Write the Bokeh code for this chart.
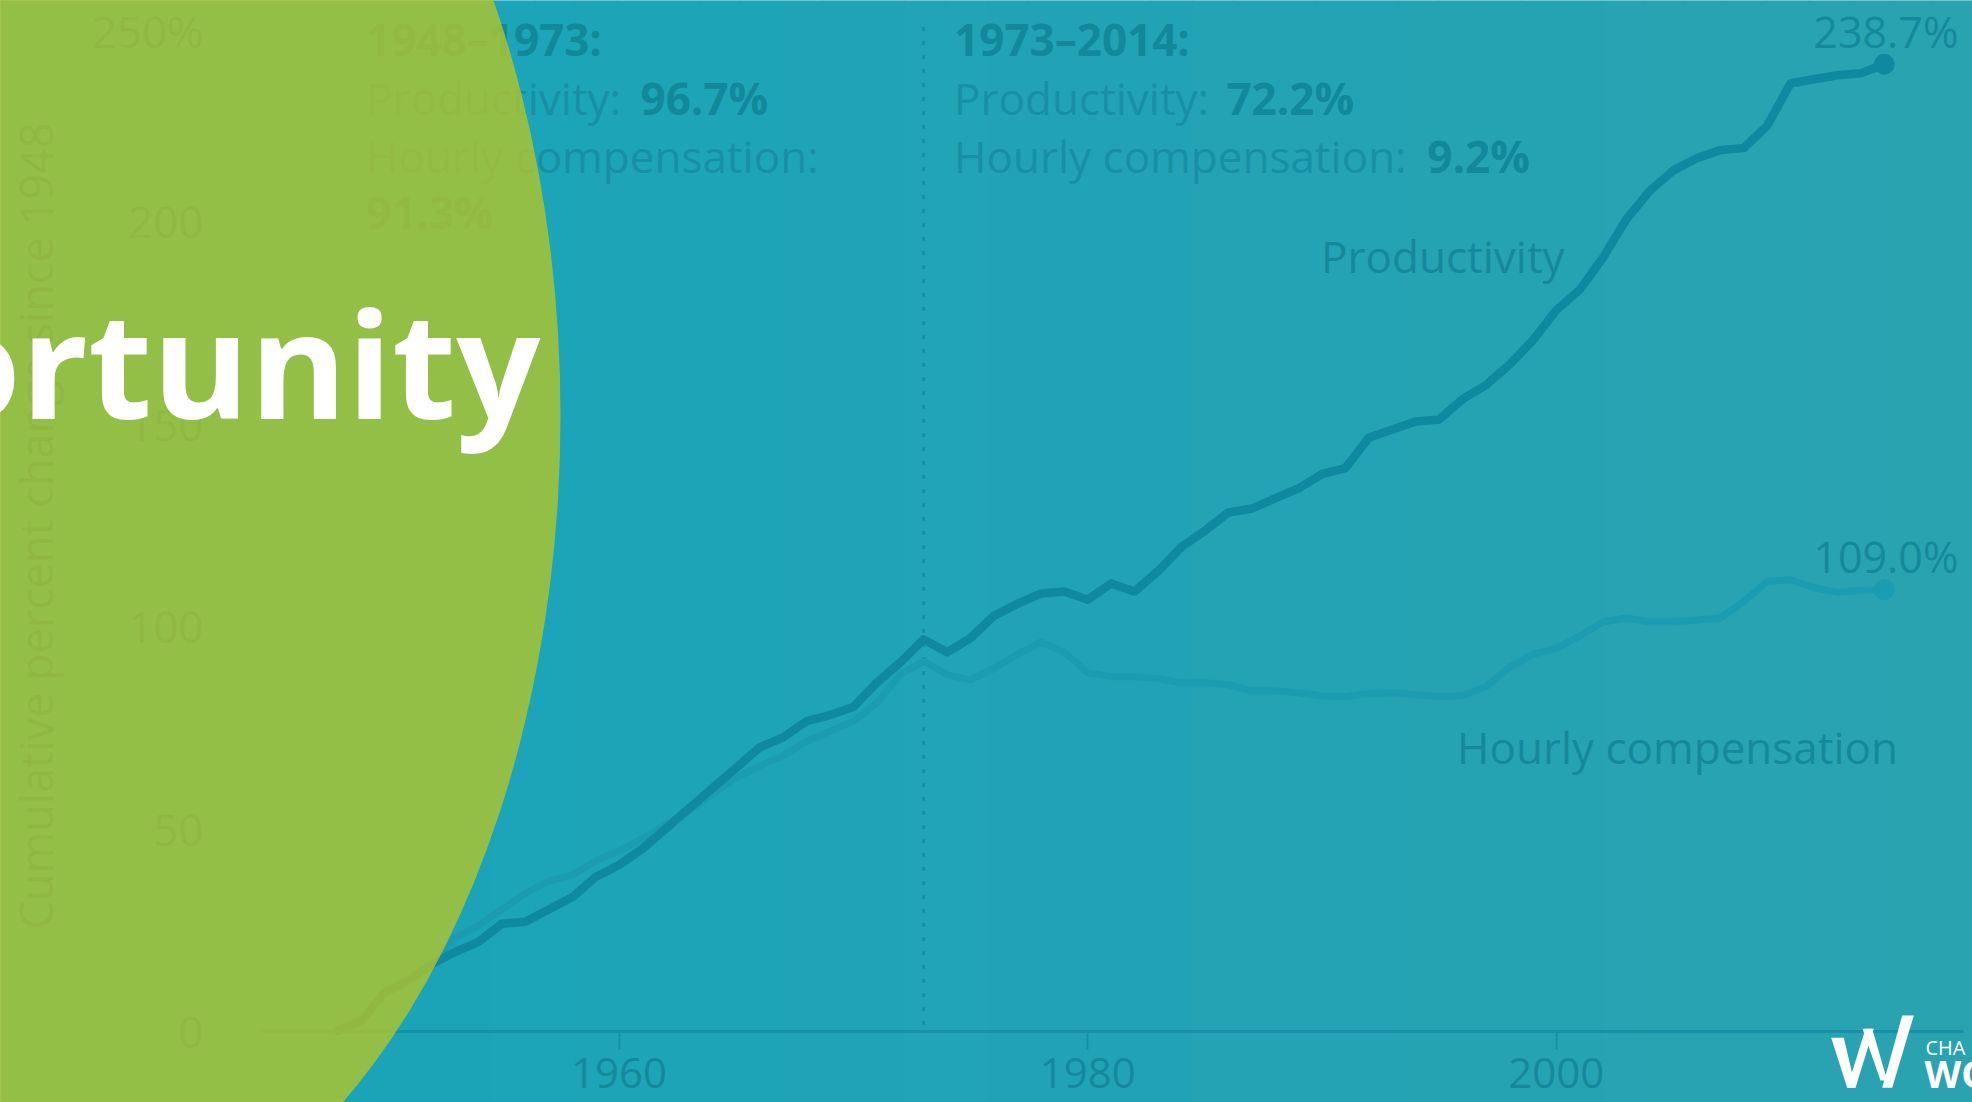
from bokeh.plotting import figure
from bokeh.models import Range1d, FixedTicker, LinearAxis
from bokeh.core.properties import value
from bokeh.embed import file_html
from bokeh.resources import INLINE

# ---------------- data ----------------
years = list(range(1948, 2015))
productivity = [0.0, 2.5, 9.5, 12.5, 16.5, 19.5, 22.0, 26.5, 27.0, 30.0,
                33.0, 38.0, 41.0, 45.0, 50.0, 55.0, 60.0, 65.0, 70.0, 72.5,
                76.5, 78.0, 80.0, 86.0, 91.0, 96.7, 93.5, 97.0, 102.5, 105.5,
                108.0, 108.5, 106.5, 110.5, 108.5, 113.5, 119.5, 123.5, 128.0, 129.0,
                131.5, 134.0, 137.5, 139.0, 146.5, 148.5, 150.5, 151.0, 156.0, 159.5,
                164.5, 170.5, 178.0, 183.0, 191.0, 200.5, 207.5, 212.5, 215.5, 217.5,
                218.0, 223.5, 234.0, 235.0, 236.0, 236.5, 238.7]
compensation = [0.0, 4.0, 9.0, 12.0, 17.0, 23.0, 26.0, 30.0, 34.0, 37.0,
                38.5, 42.0, 44.5, 47.5, 51.0, 54.5, 58.5, 62.5, 65.5, 68.0,
                71.5, 74.0, 76.5, 81.0, 88.0, 91.3, 88.0, 86.7, 89.5, 93.0,
                96.0, 93.5, 88.5, 87.5, 87.5, 87.0, 86.0, 86.0, 85.5, 84.0,
                84.0, 83.5, 82.7, 82.6, 83.3, 83.5, 83.0, 82.6, 82.8, 85.0,
                89.8, 93.0, 94.5, 97.5, 101.0, 102.0, 101.0, 101.0, 101.5, 102.0,
                106.0, 111.0, 111.4, 109.5, 108.3, 108.8, 109.0]
x_ticks = [1960, 1980, 2000]
y_ticks = [0, 50, 100, 150, 200, 250]
y_tick_overrides = {250: "250%"}
y_title = "Cumulative percent change since 1948"
split_year = 1973
series_names = ["Productivity", "Hourly compensation"]
period1 = ["1948\u20131973:", "Productivity: ", "96.7%", "Hourly compensation:", "91.3%"]
period2 = ["1973\u20132014:", "Productivity: ", "72.2%", "Hourly compensation: ", "9.2%"]
headline = "Opportunity"
logo_words = ["CHA", "WO"]

# ---------------- layout / style ----------------
W, H = 1972, 1102
X_1948 = 337.4        # canvas px of 1948
PX_YEAR = 23.43
Y_ZERO = 1030.5       # canvas px of 0 %
PX_PCT = 4.05

x_start = 1948 - X_1948 / PX_YEAR
x_end = x_start + W / PX_YEAR
y_end = Y_ZERO / PX_PCT
y_start = y_end - H / PX_PCT

FONT = "Open Sans"
TXT = "#15899B"
TXT_LIGHT = "#1790A4"
BOLD = "#12889B"
PROD_C = "#0E89A0"
COMP_C = "#1B9CB1"
AXIS_C = "#1890A5"
UNDER_GREEN = "#007FA6"
GREEN = "#B3C529"
BASELINE_FIX = 0.375   # svg baseline correction (fraction of font size)

p = figure(width=W, height=H, x_range=Range1d(x_start, x_end),
           y_range=Range1d(y_start, y_end), output_backend="svg",
           toolbar_location=None, min_border=0, x_axis_type=None, y_axis_type=None)
p.extra_x_ranges = {"px": Range1d(0, W)}
p.extra_y_ranges = {"px": Range1d(0, H)}
p.background_fill_color = "#20A4B6"
p.border_fill_color = "#20A4B6"
p.outline_line_color = None

# background gradient (left -> right)
N = 48
c0 = (23, 164, 186)
c1 = (42, 163, 177)
lefts, rights, cols = [], [], []
for i in range(N):
    t = i / (N - 1)
    lefts.append(W * i / N)
    rights.append(W * (i + 1) / N + 1)
    cols.append("#%02x%02x%02x" % tuple(int(round(a + (b - a) * t)) for a, b in zip(c0, c1)))
p.quad(left=lefts, right=rights, bottom=[0] * N, top=[H] * N, fill_color=cols,
       line_color=None, x_range_name="px", y_range_name="px", level="image")


def add_text(x, y, txt, size, color, bold=False, align="left", level="glyph"):
    yy = y - BASELINE_FIX * size
    p.text(x=[x], y=[H - yy], text=[txt], text_font=value(FONT),
           text_font_size=f"{size}px", text_font_style="bold" if bold else "normal",
           text_color=color, text_align=align, text_baseline="alphabetic",
           x_range_name="px", y_range_name="px", level=level)


# split line
p.segment(x0=[split_year], y0=[1.5], x1=[split_year], y1=[249], line_color=AXIS_C,
          line_width=3, line_dash="4 10")

# period annotations
FS = 44
add_text(365.6, 55, period1[0], FS, BOLD, bold=True)
add_text(365.6, 114, period1[1], FS, TXT_LIGHT)
add_text(640, 114, period1[2], FS, BOLD, bold=True)
add_text(365.6, 171.7, period1[3], FS, TXT_LIGHT)
add_text(365.6, 228.3, period1[4], FS, BOLD, bold=True)
add_text(953.6, 55, period2[0], FS, BOLD, bold=True)
add_text(953.6, 114, period2[1], FS, TXT_LIGHT)
add_text(1225.9, 114, period2[2], FS, BOLD, bold=True)
add_text(953.6, 171.7, period2[3], FS, TXT_LIGHT)
add_text(1426.8, 171.7, period2[4], FS, BOLD, bold=True)

# series
p.line(years, compensation, line_width=7, line_color=COMP_C, line_join="round", line_cap="round")
p.line(years, productivity, line_width=8.5, line_color=PROD_C, line_join="round", line_cap="round")
p.scatter([years[-1]], [compensation[-1]], size=20, color=COMP_C)
p.scatter([years[-1]], [productivity[-1]], size=20, color=PROD_C)

add_text(1320.6, 271.7, series_names[0], FS, TXT)
add_text(1456.5, 763.3, series_names[1], FS, TXT)
add_text(1958, 47.5, f"{productivity[-1]:.1f}%", 43, TXT, align="right")
add_text(1958, 571.7, f"{compensation[-1]:.1f}%", 43, TXT, align="right")

# axes
xaxis = LinearAxis(fixed_location=0, ticker=FixedTicker(ticks=x_ticks, minor_ticks=[]),
                   bounds=(1944.7, 2017.4))
xaxis.axis_line_color = AXIS_C
xaxis.axis_line_width = 3
xaxis.major_tick_line_color = AXIS_C
xaxis.major_tick_line_width = 2
xaxis.major_tick_in = 0
xaxis.major_tick_out = 18
xaxis.minor_tick_line_color = None
xaxis.major_label_standoff = 9
xaxis.major_label_text_font = FONT
xaxis.major_label_text_font_size = "42px"
xaxis.major_label_text_color = TXT
p.add_layout(xaxis, "below")

y_axis_year = x_start + 213 / PX_YEAR
yaxis = LinearAxis(fixed_location=y_axis_year, ticker=FixedTicker(ticks=y_ticks, minor_ticks=[]),
                   bounds=(0, 249.4), axis_label=y_title,
                   major_label_overrides=y_tick_overrides)
yaxis.axis_line_color = None
yaxis.major_tick_line_color = None
yaxis.minor_tick_line_color = None
yaxis.major_tick_in = 0
yaxis.major_tick_out = 0
yaxis.major_label_standoff = 10
yaxis.major_label_text_font = FONT
yaxis.major_label_text_font_size = "44px"
yaxis.major_label_text_color = UNDER_GREEN
yaxis.axis_label_text_font = FONT
yaxis.axis_label_text_font_size = "45px"
yaxis.axis_label_text_font_style = "normal"
yaxis.axis_label_text_color = UNDER_GREEN
yaxis.axis_label_standoff = 23
p.add_layout(yaxis, "left")

# green circle overlay
p.ellipse(x=[47], y=[H - 415], width=[1026], height=[1680], fill_color=GREEN,
          fill_alpha=0.8, line_color=None, x_range_name="px", y_range_name="px",
          level="overlay")
add_text(540, 416.7, headline, 148, "white", bold=True, align="right", level="overlay")

# logo
strokes = [
    [(1830.7, 1037.3), (1843.3, 1037.3), (1855, 1087.3), (1846.7, 1087.3)],
    [(1846.7, 1087.3), (1855, 1087.3), (1873.3, 1028.3), (1865, 1028.3)],
    [(1862, 1028.3), (1871.7, 1028.3), (1886.7, 1080), (1880, 1080)],
    [(1881.7, 1087.3), (1891.7, 1087.3), (1913.3, 1015), (1901.7, 1015)],
]
xs = [[pt[0] for pt in s] for s in strokes]
ys = [[H - pt[1] for pt in s] for s in strokes]
p.patches(xs, ys, fill_color="white", line_color=None, x_range_name="px",
          y_range_name="px", level="overlay")
add_text(1925, 1054, logo_words[0], 20, "white", level="overlay")
add_text(1924, 1087, logo_words[1], 38, "white", bold=True, level="overlay")

open("out.html", "w").write(file_html(p, INLINE))
